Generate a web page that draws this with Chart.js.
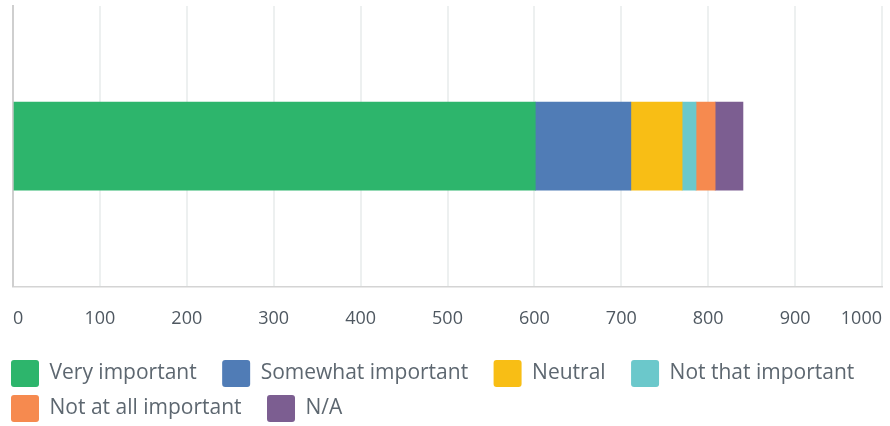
<!DOCTYPE html>
<html>
<head>
<meta charset="utf-8">
<script src="https://cdn.jsdelivr.net/npm/chart.js@4"></script>
<style>
  html, body { margin: 0; padding: 0; background: #fff; }
  #wrap { width: 890px; height: 426px; }
</style>
</head>
<body>
<div id="wrap"><canvas id="chart"></canvas></div>
<script>
// one row, stacked answers
const categories = [""];
const seriesNames = ["Very important", "Somewhat important", "Neutral", "Not that important", "Not at all important", "N/A"];
const seriesValues = [[601], [110], [59], [16], [22], [32]];
const seriesColors = ["#2db56c", "#507cb6", "#f8be15", "#6bc8cb", "#f68a4f", "#7c5e91"];
const xTicks = [0, 100, 200, 300, 400, 500, 600, 700, 800, 900, 1000];

const datasets = seriesNames.map((name, i) => ({
  label: name,
  data: seriesValues[i],
  backgroundColor: seriesColors[i],
  borderWidth: 0,
  barThickness: 88
}));

new Chart(document.getElementById("chart"), {
  type: "bar",
  data: { labels: categories, datasets: datasets },
  options: {
    indexAxis: "y",
    responsive: true,
    maintainAspectRatio: false,
    animation: false,
    layout: { padding: { left: 3, right: 0, top: 6, bottom: -6 } },
    scales: {
      x: {
        stacked: true,
        min: 0,
        max: 1000,
        afterBuildTicks: (axis) => { axis.ticks = xTicks.map(v => ({ value: v })); },
        afterFit: (axis) => { axis.paddingLeft = 0; axis.paddingRight = 8; },
        grid: { color: "#edf0f0", lineWidth: 2, drawTicks: false },
        border: { color: "#d4d4d4", width: 1.5 },
        ticks: {
          align: "inner",
          padding: 22,
          color: "#4f5861",
          font: { family: "Open Sans", size: 18 },
          callback: (v) => String(v)
        }
      },
      y: {
        stacked: true,
        afterFit: (axis) => { axis.width = 10; },
        grid: { display: false, drawTicks: false },
        border: { display: true, color: "#cfcfcf", width: 2 },
        ticks: { display: false }
      }
    },
    plugins: {
      tooltip: { enabled: false },
      legend: {
        position: "bottom",
        align: "start",
        labels: {
          boxWidth: 28,
          boxHeight: 27,
          useBorderRadius: true,
          borderRadius: 3,
          padding: 8,
          color: "#5d6770",
          font: { family: "Open Sans", size: 21 },
          generateLabels: (chart) => {
            const items = Chart.defaults.plugins.legend.labels.generateLabels(chart);
            // trailing gap between legend entries
            items.forEach(it => { it.text = it.text + "\u2007 "; it.lineWidth = 0; });
            return items;
          }
        }
      }
    }
  }
});
</script>
</body>
</html>
